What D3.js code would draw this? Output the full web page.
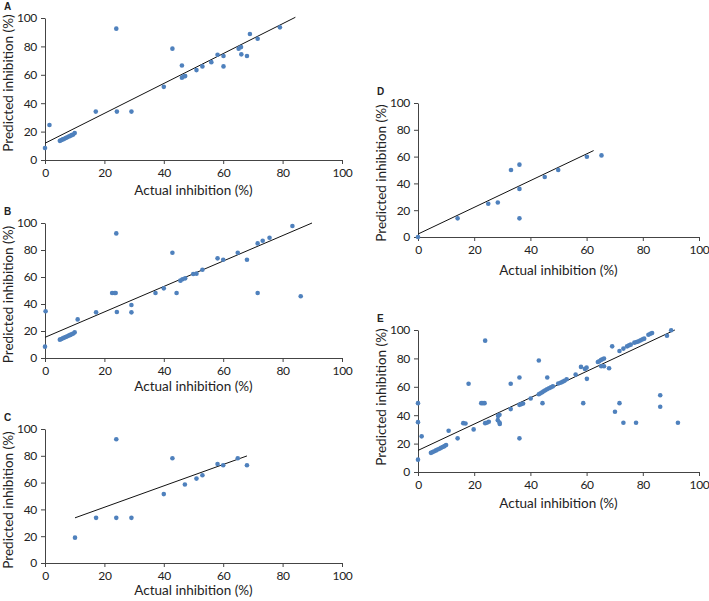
<!DOCTYPE html>
<html>
<head>
<meta charset="utf-8">
<script src="https://cdn.jsdelivr.net/npm/d3@7"></script>
<style>
  body { margin: 0; background: #fff; }
  svg text { font-family: Lato, "Open Sans", sans-serif; fill: #222; }
</style>
</head>
<body>
<svg id="chart" width="709" height="601"></svg>
<script>
// actual vs predicted inhibition (%), one array per panel
const pointsA = [
  [0, 8.5], [1.5, 24.7], [5, 13.5], [5.5, 14], [6, 14.5], [6.5, 15], [7, 15.5], [7.5, 16],
  [8, 16.5], [8.5, 17], [9, 17.5], [9.5, 18], [10, 19], [17.1, 34.1], [24, 92.5], [24.2, 34.1],
  [29.1, 34.1], [40, 51.5], [42.9, 78.4], [46.1, 66.6], [46.1, 57.9], [46.6, 58.8], [47.2, 59.1],
  [51, 63.3], [53, 65.9], [56, 68.9], [58.1, 74.1], [60.1, 73.2], [60.1, 65.9], [65.2, 78.4],
  [66, 79.5], [66.1, 74.4], [68, 73.2], [69, 88.7], [71.6, 85.4], [79.1, 93.4]
];
const pointsB = [
  [0.2, 34.6], [0, 8.4], [5, 13.6], [5.5, 14.1], [6, 14.6], [6.5, 15.1], [7, 15.6], [7.5, 16.1],
  [8, 16.6], [8.5, 17.1], [9, 17.6], [9.5, 18.2], [10, 19], [11, 28.6], [17.2, 33.8],
  [22.6, 48.1], [23.4, 48.1], [23.8, 48.1], [24, 92.3], [24.2, 34.1], [29.1, 39.3], [29.1, 33.8],
  [37.2, 48.1], [40, 51.6], [42.9, 78], [44.3, 48.1], [45.6, 57.3], [46.3, 58.3], [47.2, 59],
  [49.9, 62.2], [51, 62.5], [53, 65.4], [58.1, 73.8], [60, 72.8], [64.9, 78], [68, 72.8],
  [71.6, 84.9], [73.3, 86.9], [75.6, 89.1], [83.3, 97.8], [71.6, 48.1], [86.1, 45.7]
];
const pointsC = [
  [10.1, 18.9], [17.2, 33.7], [24, 92.3], [24, 33.7], [29.1, 33.7], [40, 51.4], [42.9, 78.2],
  [47.1, 58.6], [51, 63], [53, 65.5], [58.1, 73.9], [60, 73], [64.9, 78.2], [68, 73]
];
const pointsD = [
  [0, 0], [14.1, 13.9], [25, 24.8], [28.4, 25.7], [33.1, 50], [36.1, 54], [36.1, 35.9],
  [36.1, 13.9], [45.1, 44.8], [49.9, 50], [60.1, 59.9], [65.3, 60.9]
];
const pointsE = [
  [0, 48.5], [0, 35.1], [1.3, 25.1], [0, 8.7], [4.6, 13.5], [5.2, 14], [5.8, 14.6], [6.4, 15.2],
  [7, 15.8], [7.6, 16.4], [8.2, 17], [8.8, 17.6], [9.4, 18.2], [10, 19], [10.9, 29], [14.1, 23.7],
  [16.1, 34.4], [16.9, 34.2], [18, 62.1], [19.8, 30], [22.5, 48.5], [23.1, 48.5], [23.7, 48.5],
  [23.9, 92.5], [23.9, 34.4], [24.5, 34.7], [25.2, 35.4], [28.5, 39.5], [29, 40.3], [28.4, 36.5],
  [29, 34.8], [29.1, 33.8], [33, 62.1], [33, 44.3], [36.1, 66.5], [36.1, 23.7], [36.1, 47.3],
  [36.8, 47.8], [37.4, 48.2], [40.1, 51.8], [43, 78.5], [43, 54.8], [43.6, 55.5], [44.2, 56.2],
  [44.7, 56.9], [45.3, 57.6], [45.9, 58.3], [46.6, 59], [47.3, 59.6], [48, 60.3], [44.3, 48.5],
  [46, 66.5], [49.9, 62.3], [50.7, 62.8], [51.4, 63.5], [52.1, 64.2], [52.9, 65.3], [56.1, 68.6],
  [58, 74], [58.8, 48.5], [59.4, 72.6], [60, 73.5], [60.1, 65.6], [64, 77.5], [64.5, 78],
  [65.1, 78.9], [65.6, 79.4], [66.2, 79.9], [65.2, 74.5], [66.2, 74.5], [68, 73.1], [69.1, 88.5],
  [70.1, 42.4], [71.7, 85.2], [71.7, 48.5], [73.1, 86.9], [73.1, 34.7], [74.4, 88.5], [75.1, 89.2],
  [75.7, 89.7], [77.6, 34.7], [77, 91.1], [77.8, 91.6], [78.5, 92], [79.2, 92.7], [79.9, 93.4],
  [80.5, 93.9], [82, 96.7], [82.7, 97.4], [83.3, 97.9], [86.2, 54.1], [86.2, 45.9], [88.6, 96],
  [90.1, 99.8], [92.5, 34.7]
];

// trend lines: [x0, y0, x1, y1] in data units
const trendA = [0, 11.8, 84.3, 100.5];
const trendB = [0, 15.3, 89.9, 100];
const trendC = [10.1, 33.7, 68, 79.9];
const trendD = [0, 2.2, 62.5, 64.5];
const trendE = [0, 15.2, 91.4, 100];

const panelLetters = ['A', 'B', 'C', 'D', 'E'];
const axisTicks = [0, 20, 40, 60, 80, 100];
const xTitle = 'Actual inhibition (%)';
const yTitle = 'Predicted inhibition (%)';

// pixel frame of each panel, plus small title offsets
const frames = [
  {left: 45, right: 342, top: 18, bottom: 160, xGap: 35, yShift: -6},
  {left: 45, right: 342, top: 223, bottom: 358, xGap: 33, yShift: 4},
  {left: 45, right: 342, top: 429, bottom: 563, xGap: 32, yShift: 4},
  {left: 418, right: 699, top: 103, bottom: 237, xGap: 38, yShift: 3},
  {left: 418, right: 699, top: 330, bottom: 472, xGap: 36, yShift: -4}
];
const allPoints = [pointsA, pointsB, pointsC, pointsD, pointsE];
const allTrends = [trendA, trendB, trendC, trendD, trendE];

const svg = d3.select('#chart');

frames.forEach((f, i) => {
  const x = d3.scaleLinear().domain([0, 100]).range([f.left, f.right]);
  const y = d3.scaleLinear().domain([0, 100]).range([f.bottom, f.top]);
  const g = svg.append('g');

  const xAxis = g.append('g')
    .attr('transform', `translate(0,${f.bottom})`)
    .call(d3.axisBottom(x).tickValues(axisTicks).tickSize(4).tickSizeOuter(0));
  const yAxis = g.append('g')
    .attr('transform', `translate(${f.left},0)`)
    .call(d3.axisLeft(y).tickValues(axisTicks).tickSize(4).tickSizeOuter(0));

  [xAxis, yAxis].forEach(a => {
    a.selectAll('path, line').attr('stroke', '#444').attr('stroke-width', 1);
    a.selectAll('text').attr('font-size', 12).attr('fill', '#222')
      .style('font-family', 'Lato, sans-serif')
      .style('letter-spacing', '-0.3px');
  });
  xAxis.selectAll('text').attr('dy', '0.8em');
  yAxis.selectAll('text').attr('x', -8);

  const t = allTrends[i];
  g.append('line')
    .attr('x1', x(t[0])).attr('y1', y(t[1]))
    .attr('x2', x(t[2])).attr('y2', y(t[3]))
    .attr('stroke', '#111').attr('stroke-width', 1);

  g.selectAll('circle')
    .data(allPoints[i])
    .join('circle')
    .attr('cx', d => x(d[0]))
    .attr('cy', d => y(d[1]))
    .attr('r', 2.3)
    .attr('fill', '#4F81BD');

  g.append('text')
    .attr('x', (f.left + f.right) / 2)
    .attr('y', f.bottom + f.xGap)
    .attr('text-anchor', 'middle')
    .attr('font-size', 13.5)
    .text(xTitle);

  g.append('text')
    .attr('transform', `translate(${f.left - 32},${(f.top + f.bottom) / 2 + f.yShift}) rotate(-90)`)
    .attr('text-anchor', 'middle')
    .attr('font-size', 13.5)
    .text(yTitle);

  g.append('text')
    .attr('x', f.left - 41)
    .attr('y', f.top - 8)
    .attr('font-size', 10)
    .attr('font-weight', 'bold')
    .style('font-family', 'Liberation Sans, Arial, sans-serif')
    .text(panelLetters[i]);
});
</script>
</body>
</html>
